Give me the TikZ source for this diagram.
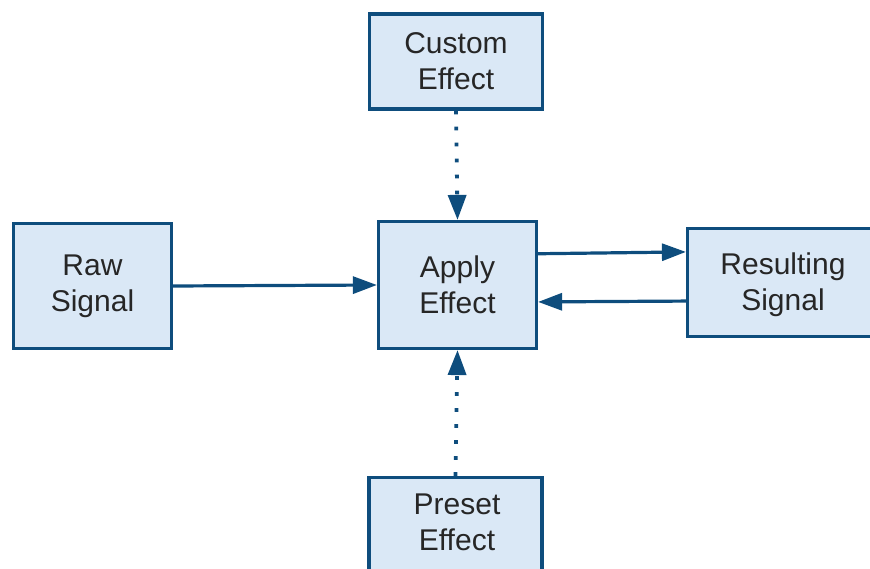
\documentclass[tikz,border=0pt]{standalone}
\usepackage{fontspec}
\setmainfont{Liberation Sans}
\usetikzlibrary{arrows.meta,calc}
\definecolor{edge}{HTML}{0E4D7D}
\definecolor{boxfill}{HTML}{DAE8F6}
\tikzset{
  boxtext/.style={align=center, text=black!85, font=\fontsize{30}{36}\selectfont, inner sep=0pt},
  blockbox/.style={boxtext, draw=edge, fill=boxfill, line width=3.2pt},
  flow/.style={draw=edge, line width=3.2pt, -{Triangle[length=24pt,width=17pt]}},
  dotflow/.style={draw=edge, line width=3.8pt, dash pattern=on 3.8pt off 12.2pt,
    -{Triangle[length=25pt,width=18pt]}}
}
\begin{document}
\begin{tikzpicture}[x=1pt,y=-1pt]
  \useasboundingbox (0,0) rectangle (870,569);
  \clip (0,0) rectangle (870,569);
  \node[blockbox, minimum width=173pt, minimum height=95pt] (custom) at (456,61.5) {Custom\\Effect};
  \node[blockbox, minimum width=158pt, minimum height=125pt] (raw) at (92.5,286) {Raw\\Signal};
  \node[blockbox, minimum width=158pt, minimum height=127pt] (apply) at (457.5,285) {Apply\\Effect};
  % the two boxes below run past the picture's edges; their labels sit apart
  \node[blockbox, minimum width=200pt, minimum height=108pt] (result) at (787.5,282.5) {};
  \node[boxtext] (resulttext) at (783,285) {Resulting\\Signal};
  \node[blockbox, minimum width=173pt, minimum height=130pt] (preset) at (455.5,542.5) {};
  \node[boxtext] (presettext) at (457,522) {Preset\\Effect};
  \draw[flow] (raw.east) -- (apply.west);
  \draw[flow] ($(apply.north east)!0.26!(apply.south east)$) -- ($(result.north west)!0.225!(result.south west)$);
  \draw[flow] ($(result.north west)!0.667!(result.south west)$) -- ($(apply.north east)!0.63!(apply.south east)$);
  \draw[dotflow] (custom.south) -- (apply.north);
  \draw[dotflow] (preset.north) -- (apply.south);
\end{tikzpicture}
\end{document}
